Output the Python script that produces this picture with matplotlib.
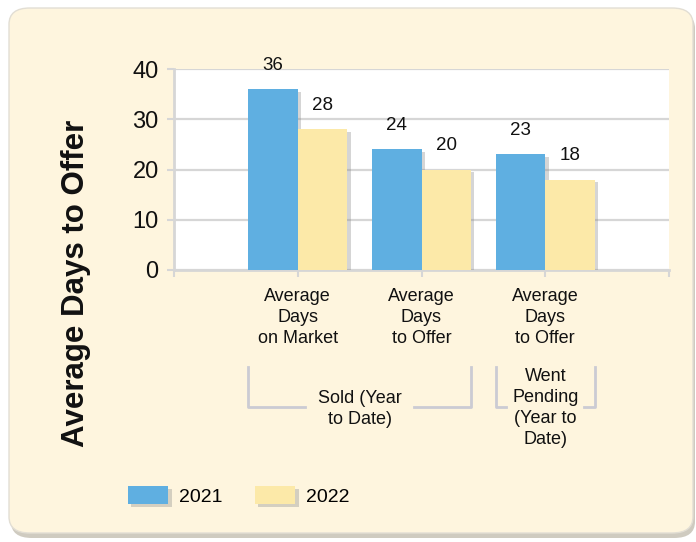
import matplotlib.pyplot as plt
import matplotlib.patheffects as pe
from matplotlib.patches import FancyBboxPatch
import matplotlib.transforms as mtransforms

plt.rcParams["font.family"] = ["Liberation Sans", "DejaVu Sans"]

# Data
categories = ["Average\nDays\non Market", "Average\nDays\nto Offer", "Average\nDays\nto Offer"]
values_2021 = [36, 24, 23]
values_2022 = [28, 20, 18]
series_names = ["2021", "2022"]
group_labels = ["Sold (Year\nto Date)", "Went\nPending\n(Year to\nDate)"]
y_ticks = [0, 10, 20, 30, 40]

blue = "#5FAFE1"
yellow = "#FCE9A8"
cream = "#FEF5DE"
grey = "#D6D6D6"

fig = plt.figure(figsize=(6.96, 5.42), dpi=100)
fig.patch.set_facecolor("white")

# Rounded cream panel with a soft shadow
shadow = FancyBboxPatch((11 / 696, 4 / 542), 684 / 696, 526 / 542,
                        boxstyle="round,pad=0,rounding_size=0.03",
                        transform=fig.transFigure, facecolor="#CFCBC0",
                        edgecolor="none", zorder=-3)
panel = FancyBboxPatch((9 / 696, 9 / 542), 684 / 696, 525 / 542,
                       boxstyle="round,pad=0,rounding_size=0.03",
                       transform=fig.transFigure, facecolor=cream,
                       edgecolor="#E2DED4", linewidth=1, zorder=-2)
fig.patches.extend([shadow, panel])

ax = fig.add_axes([174 / 696, 1 - 270 / 542, 495 / 696, 201 / 542])
ax.set_facecolor("white")

x = [1, 2, 3]
w = 0.4
shadow_fx = [pe.SimplePatchShadow(offset=(2.5, -2), shadow_rgbFace="#888888", alpha=0.35), pe.Normal()]
bars1 = ax.bar([i - w / 2 for i in x], values_2021, width=w, color=blue,
               label=series_names[0], zorder=3)
bars2 = ax.bar([i + w / 2 for i in x], values_2022, width=w, color=yellow,
               label=series_names[1], zorder=3)
for b in list(bars1) + list(bars2):
    b.set_path_effects(shadow_fx)

for bars in (bars1, bars2):
    for b in bars:
        ax.annotate(f"{b.get_height():.0f}", (b.get_x() + b.get_width() / 2, b.get_height()),
                    xytext=(0, 11), textcoords="offset points", ha="center", va="bottom",
                    fontsize=13.5, color="#111111")

ax.set_xlim(0, 4)
ax.set_ylim(0, 40)
ax.set_yticks(y_ticks)
ax.set_yticklabels([str(t) for t in y_ticks], fontsize=17, color="#111111")
ax.set_xticks([0, 1, 2, 3, 4])
ax.set_xticklabels([""] + categories + [""], fontsize=13, color="#111111", linespacing=1.3)
ax.tick_params(axis="y", length=5, width=1.5, color=grey, pad=6)
ax.tick_params(axis="x", length=5, width=1.5, color=grey, pad=8)
ax.grid(axis="y", color=grey, linewidth=1.6, zorder=0)
ax.set_axisbelow(True)
for s in ("top", "right"):
    ax.spines[s].set_visible(False)
for s in ("left", "bottom"):
    ax.spines[s].set_color(grey)
    ax.spines[s].set_linewidth(2)

ax.set_ylabel("Average Days to Offer", fontsize=22.5, fontweight="bold", color="#111111")
ax.yaxis.set_label_coords(-0.168, -0.065)

# Group brackets below the categories
trans = mtransforms.blended_transform_factory(ax.transData, ax.transAxes)
y_top = -(367 - 270) / 201
y_bot = -(407 - 270) / 201
bcol = "#CBCBD3"
brackets = [(0.6, 2.4, 1.06, 1.94), (2.6, 3.4, 2.68, 3.31)]
for (l, r, gl, gr), lab in zip(brackets, group_labels):
    ax.plot([l, l, gl], [y_top, y_bot, y_bot], color=bcol, lw=2, transform=trans, clip_on=False)
    ax.plot([gr, r, r], [y_bot, y_bot, y_top], color=bcol, lw=2, transform=trans, clip_on=False)
ax.text(1.5, -(409 - 270) / 201, group_labels[0], transform=trans, ha="center", va="center",
        fontsize=13, linespacing=1.3, color="#111111")
ax.text(3.0, -(408 - 270) / 201, group_labels[1], transform=trans, ha="center", va="center",
        fontsize=13, linespacing=1.3, color="#111111")

leg = fig.legend(handles=[bars1, bars2], labels=series_names, loc="center left",
                 bbox_to_anchor=(110 / 696, 1 - 496 / 542), ncol=2, frameon=False,
                 fontsize=14, handlelength=2.1, handleheight=1.0, columnspacing=1.65,
                 handletextpad=0.55)
for h in leg.legend_handles:
    h.set_path_effects(shadow_fx)

fig.savefig("out.png", dpi=100, facecolor=fig.get_facecolor())
